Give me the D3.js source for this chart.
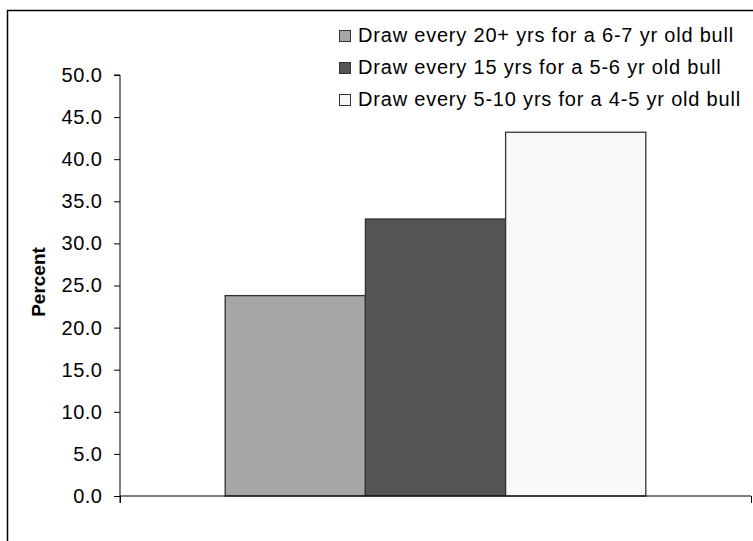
<!DOCTYPE html>
<html><head><meta charset="utf-8">
<script src="https://cdn.jsdelivr.net/npm/d3@7"></script>
<style>body{margin:0;background:#fff}svg{display:block}text{font-family:"Liberation Sans",Arial,sans-serif}</style>
</head><body>
<script>
const categories = ["All"];
const seriesNames = ["Draw every 20+ yrs for a 6-7 yr old bull","Draw every 15 yrs for a 5-6 yr old bull","Draw every 5-10 yrs for a 4-5 yr old bull"];
const seriesValues = [23.8, 32.9, 43.2];
const seriesColors = ["#a6a6a6","#555555","#f8f8f8"];
const yTicks = [0,5,10,15,20,25,30,35,40,45,50];

const W=753,H=541;
const svg=d3.select("body").append("svg").attr("width",W).attr("height",H);
svg.append("rect").attr("x",7.5).attr("y",10.5).attr("width",800).attr("height",600).attr("fill","none").attr("stroke","#000").attr("stroke-width",1.5);

const x0=120,x1=751,y0=496,y1=75;
const y=d3.scaleLinear().domain([0,50]).range([y0,y1]);
const xc=d3.scaleBand().domain(categories).range([x0,x1]).paddingInner(0).paddingOuter(0.25);
const xs=d3.scaleBand().domain(d3.range(seriesValues.length)).range([0,xc.bandwidth()]).padding(0);

const yAxis=d3.axisLeft(y).tickValues(yTicks).tickSize(6).tickPadding(11.5).tickFormat(d3.format(".1f"));
const gy=svg.append("g").attr("transform",`translate(${x0},0)`).call(yAxis);
gy.select(".domain").attr("d",`M-6,${y1}H0V${y0+7}`).attr("stroke","#000");
gy.selectAll(".tick line").attr("stroke","#000");
gy.selectAll(".tick text").attr("font-size",20).attr("letter-spacing","0.5px").attr("fill","#000").attr("font-family","Liberation Sans, Arial, sans-serif");

const g=svg.append("g");
g.selectAll("rect.bar").data(seriesValues).join("rect").attr("class","bar")
 .attr("x",(d,i)=>xc("All")+xs(i)).attr("width",xs.bandwidth())
 .attr("y",d=>y(d)).attr("height",d=>y0-y(d))
 .attr("fill",(d,i)=>seriesColors[i]).attr("stroke","#333").attr("stroke-width",1.3);

const xAxis=d3.axisBottom(d3.scaleLinear().domain([0,1]).range([x0,x1])).tickValues([0,1]).tickSize(7).tickFormat("");
const gx=svg.append("g").attr("transform",`translate(0,${y0})`).call(xAxis);
gx.select(".domain").attr("d",`M${x0},0H${x1}`).attr("stroke","#000");
gx.selectAll(".tick line").attr("stroke","#000");

svg.append("text").attr("transform","translate(45,282) rotate(-90)").attr("text-anchor","middle")
 .attr("font-size",19).attr("font-weight","bold").text("Percent");

const lg=svg.append("g");
seriesNames.forEach((n,i)=>{
  const yy=36+i*32;
  lg.append("rect").attr("x",339.5).attr("y",yy-5.5).attr("width",11).attr("height",11).attr("fill",seriesColors[i]).attr("stroke","#333").attr("stroke-width",1);
  lg.append("text").attr("x",358).attr("y",yy+6).attr("font-size",20).attr("letter-spacing","0.8px").text(n);
});
</script>
</body></html>
